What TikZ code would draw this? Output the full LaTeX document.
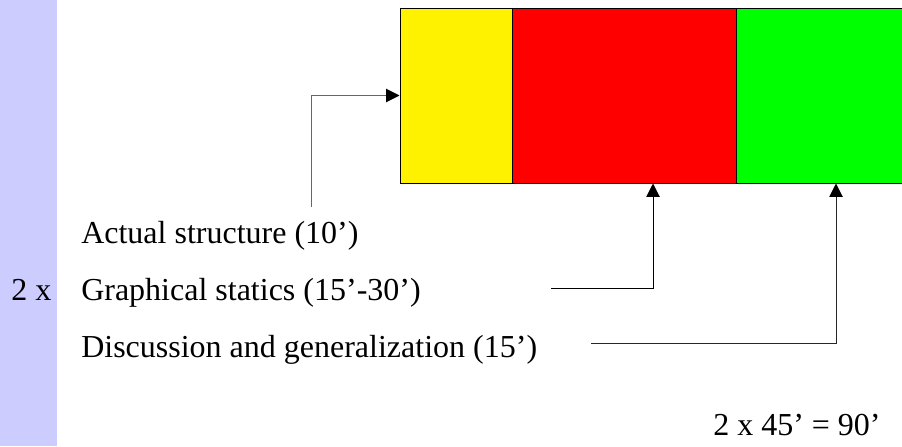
\documentclass[tikz,border=0pt]{standalone}
\usepackage{fontspec}
\setmainfont{Liberation Serif}
\usetikzlibrary{arrows.meta}
\definecolor{lavender}{HTML}{CCCCFF}
\definecolor{limegreen}{HTML}{00FF00}
\tikzset{
  block/.style={draw, rectangle, line width=0.75pt, minimum height=131.25pt, inner sep=0pt},
  label/.style={anchor=base west, inner sep=0pt, font=\fontsize{24pt}{28pt}\selectfont},
  pointer/.style={line width=0.75pt, -{Triangle[length=10pt,width=10pt,color=black]}}
}
\begin{document}
\begin{tikzpicture}[x=0.75pt,y=-0.75pt]
\useasboundingbox (0,0) rectangle (902,446);
\clip (0,0) rectangle (902,446);
\fill[lavender] (0,0) rectangle (57,446);

\node[block, fill=yellow, minimum width=84pt] (yellow) at (456,95.5) {};
\node[block, fill=red, minimum width=168pt] (red) at (624,95.5) {};
\node[block, fill=limegreen, minimum width=150pt] (green) at (836,95.5) {};

\node[label] (times) at (11,300) {2 x};
\node[label] (actual) at (81,243) {Actual structure (10’)};
\node[label] (statics) at (81,300) {Graphical statics (15’-30’)};
\node[label] (discussion) at (81,357) {Discussion and generalization (15’)};
\node[label] (total) at (713,435) {2 x 45’ = 90’};

\coordinate (c1) at (311,207);
\coordinate (c2) at (551,288);
\coordinate (c3) at (591,343);
\draw[pointer, draw=gray!80!black] (c1) |- (yellow.west);
\draw[pointer] (c2) -| ([xshift=21.75pt]red.south);
\draw[pointer, draw=black!85] (c3) -| (green.south);
\end{tikzpicture}
\end{document}
